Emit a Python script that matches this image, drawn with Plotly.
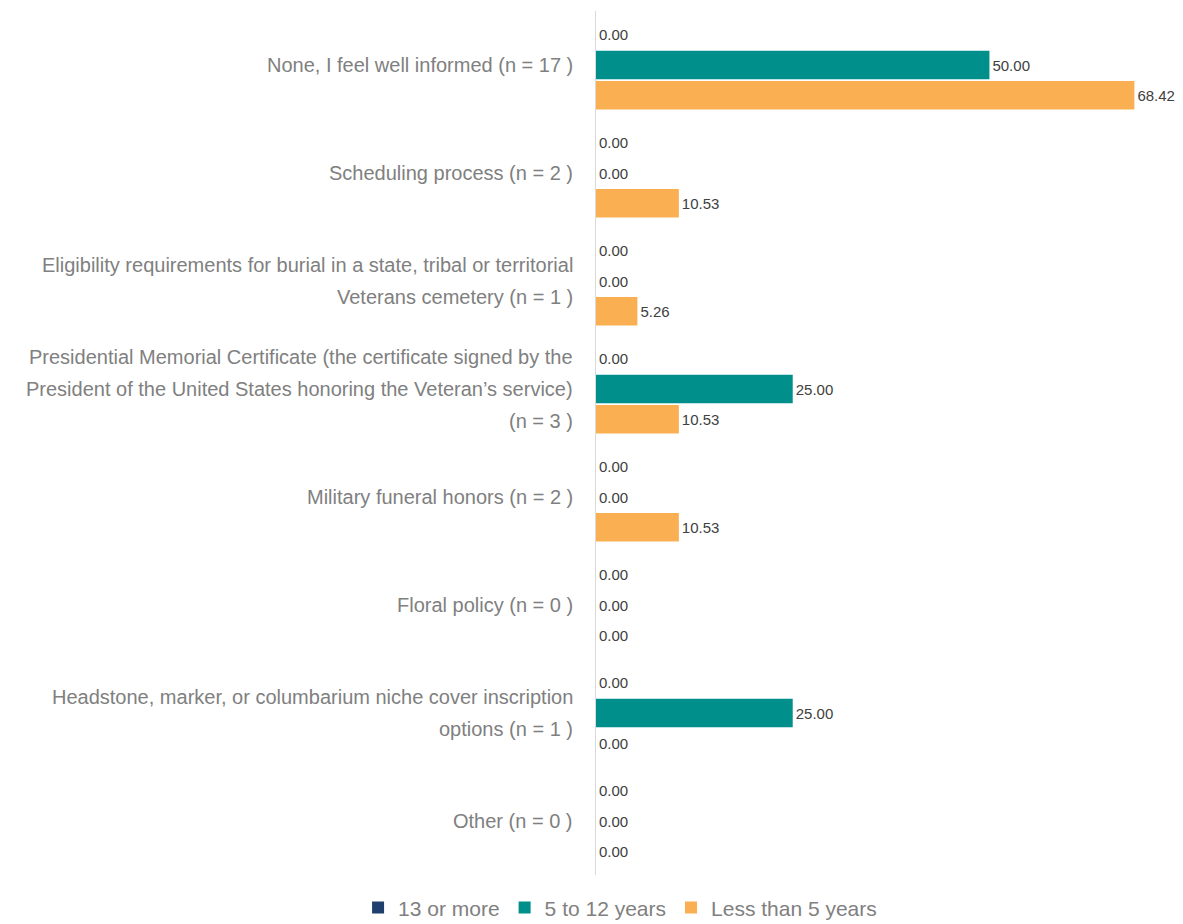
import plotly.graph_objects as go

categories = [
    "None, I feel well informed (n = 17 )",
    "Scheduling process (n = 2 )",
    "Eligibility requirements for burial in a state, tribal or territorial<br>Veterans cemetery (n = 1 )",
    "Presidential Memorial Certificate (the certificate signed by the<br>President of the United States honoring the Veteran’s service)<br>(n = 3 )",
    "Military funeral honors (n = 2 )",
    "Floral policy (n = 0 )",
    "Headstone, marker, or columbarium niche cover inscription<br>options (n = 1 )",
    "Other (n = 0 )",
]
series_names = ["13 or more", "5 to 12 years", "Less than 5 years"]
v_13_or_more = [0.00, 0.00, 0.00, 0.00, 0.00, 0.00, 0.00, 0.00]
v_5_to_12 = [50.00, 0.00, 0.00, 25.00, 0.00, 0.00, 25.00, 0.00]
v_less_5 = [68.42, 10.53, 5.26, 10.53, 10.53, 0.00, 0.00, 0.00]
colors = ["#1F3F6E", "#008F8A", "#F9AF52"]

keys = [f"c{i}" for i in range(len(categories))]

fig = go.Figure()
for name, vals, col in zip(series_names, [v_13_or_more, v_5_to_12, v_less_5], colors):
    fig.add_trace(go.Bar(
        y=keys, x=vals, name=name, orientation="h",
        marker=dict(color=col, line=dict(width=0)),
        texttemplate="%{x:.2f}", textposition="outside",
        textfont=dict(size=15, color="#404040", family="Liberation Sans"),
        constraintext="none", cliponaxis=False,
    ))

TEXT_COLOR = "#808080"
annotations = []
for key, label in zip(keys, categories):
    lines = label.split("<br>")
    n = len(lines)
    for j, line in enumerate(lines):
        annotations.append(dict(
            x=0, xref="paper", y=key, yref="y", xanchor="right", yanchor="middle",
            xshift=-21, yshift=(n - 1) * 16 - j * 32,
            text=line, showarrow=False, align="center",
            font=dict(size=20, color=TEXT_COLOR, family="Liberation Sans"),
        ))

fig.update_layout(
    width=1183, height=924,
    margin=dict(l=588, r=8, t=3, b=57, autoexpand=False),
    paper_bgcolor="white", plot_bgcolor="white",
    barmode="group", bargap=0.16, bargroupgap=0.06,
    font=dict(family="Liberation Sans", color=TEXT_COLOR, size=20),
    showlegend=True,
    legend=dict(orientation="h", x=0.041, xanchor="center", y=-0.038, yanchor="middle",
                font=dict(size=21, color=TEXT_COLOR), itemwidth=30, traceorder="normal"),
    annotations=annotations,
)
fig.update_xaxes(range=[0, 74.6], visible=False, showgrid=False, zeroline=False)
fig.update_yaxes(autorange="reversed", showticklabels=False, showgrid=False,
                 showline=True, linecolor="#D9D9D9", linewidth=1, ticks="")

fig.write_html("out.html")
